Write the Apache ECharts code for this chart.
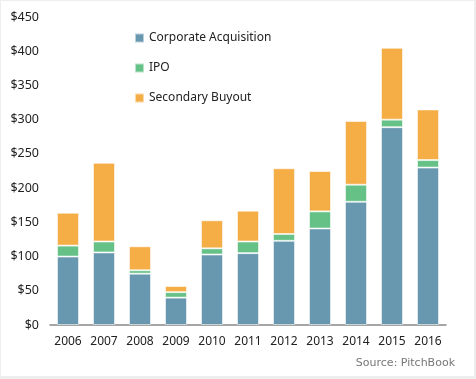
<!DOCTYPE html>
<html><head><meta charset="utf-8">
<script src="https://cdn.jsdelivr.net/npm/echarts@6/dist/echarts.min.js"></script>
<style>
html,body{margin:0;padding:0;background:#eeeeee;}
#c{position:absolute;left:1px;top:1px;width:473px;height:375px;background:#fff;}
</style></head>
<body><div id="c"></div>
<script>
const categories = ['2006','2007','2008','2009','2010','2011','2012','2013','2014','2015','2016'];
const corporateAcquisition = [100,106,75,40,103,105,123,141,180,289,230];
const ipo = [16,16,5,8,9,17,10,25,25,11,11];
const secondaryBuyout = [48,115,35,9,41,45,96,59,93,105,74];
const yTicks = [0,50,100,150,200,250,300,350,400,450];

const chart = echarts.init(document.getElementById('c'));
const font = '"Noto Sans", sans-serif';
function bar(name, data, color){
  return {name, type:'bar', stack:'t', data, barWidth:22,
    itemStyle:{color, borderColor:'rgba(255,255,255,0.55)', borderWidth:1},
    emphasis:{disabled:true}};
}
chart.setOption({
  animation:false,
  grid:{left:49, right:28, top:16, bottom:51},
  legend:{
    orient:'vertical', left:133, top:31, itemGap:18, padding:0,
    itemWidth:9, itemHeight:9, icon:'rect',
    textStyle:{fontFamily:font, fontSize:12, color:'#222'},
    data:['Corporate Acquisition','IPO','Secondary Buyout']
  },
  xAxis:{type:'category', data:categories,
    axisLine:{lineStyle:{color:'#888', width:1.5}}, axisTick:{show:false},
    axisLabel:{fontFamily:font, fontSize:12, color:'#222', margin:11, interval:0}},
  yAxis:{type:'value', min:yTicks[0], max:yTicks[yTicks.length-1], interval:50,
    splitLine:{show:false}, axisLine:{show:false}, axisTick:{show:false},
    axisLabel:{fontFamily:font, fontSize:12.5, color:'#222', margin:11,
      formatter:v=>'$'+v}},
  graphic:[{type:'text', right:19, bottom:7,
    style:{text:'Source: PitchBook', fontFamily:'"DejaVu Sans", sans-serif', fontSize:11, fill:'#777'}}],
  series:[
    bar('Corporate Acquisition', corporateAcquisition, '#6897b0'),
    bar('IPO', ipo, '#66c187'),
    bar('Secondary Buyout', secondaryBuyout, '#f5ad45')
  ]
});
</script></body></html>
